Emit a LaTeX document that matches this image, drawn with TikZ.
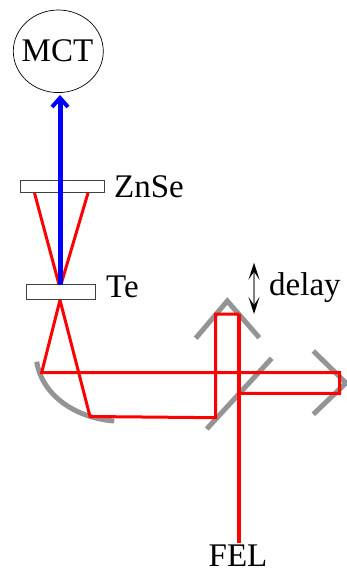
\documentclass[tikz,border=0pt]{standalone}
\usepackage{fontspec}
\setmainfont{Liberation Serif}
\usetikzlibrary{arrows.meta,shapes.geometric}
\tikzset{
  x=1pt,y=-1pt,
  lbl/.style={font=\fontsize{33}{36}\selectfont,inner sep=0pt,anchor=base west,text=black},
  beam/.style={draw=red,line width=3pt,line join=miter},
  optic/.style={draw=black!75,fill=white,line width=0.9pt},
  mirror/.style={draw=black!42,line width=5pt,line join=miter},
}
\begin{document}
\begin{tikzpicture}
\useasboundingbox (0,0) rectangle (346,569);
% coordinates of the beam
\coordinate (t1) at (60,300);
\coordinate (pl) at (41.7,372.5);
\coordinate (pr) at (90,416.5);
\coordinate (rr) at (339.5,372.5);
\coordinate (rb) at (339.5,393.3);
\coordinate (bs) at (239.3,393.3);
\coordinate (fel) at (239.3,543);
\coordinate (tr) at (239.3,314);
\coordinate (tl) at (215.7,314);
\coordinate (bl) at (215.7,417.7);
% mirrors
\draw[mirror,line cap=butt] (36.7,361.7) .. controls (42,395) and (75,418) .. (114.3,421);
\draw[mirror] (195.7,338.3) -- (227.3,301) -- (259.3,337.7);
\draw[mirror] (271.7,358.3) -- (206.7,429);
\draw[mirror] (313.3,351) -- (346,383) -- (313.3,414.3);
% red beams
\draw[beam] (34.5,193) -- (59,284.5);
\draw[beam] (88,193) -- (61,284.5);
\draw[beam] (t1) -- (pl) -- (rr) -- (rb) -- (bs);
\draw[beam] (t1) -- (pr) -- (bl) -- (tl) -- (tr);
\draw[beam,line width=4pt] (fel) -- (tr);
% windows
\node[optic,minimum width=83.5pt,minimum height=12.7pt,inner sep=0pt] (znse) at (62.3,186.6) {};
\node[optic,minimum width=69pt,minimum height=14.7pt,inner sep=0pt] (te) at (61.2,291.6) {};
% detector
\node[draw=black,line width=0.7pt,ellipse,minimum width=90pt,minimum height=82.6pt,inner sep=0pt] (mct) at (58.3,51.3) {};
\node[lbl,anchor=base] (mctl) at (57.5,62) {MCT};
% blue arrow
\draw[draw=blue,line width=5pt,line cap=butt,-{Straight Barb[length=9pt,width=16pt,line width=4pt]}] (60,285) -- (60,95);
\draw[draw=blue,line width=5pt] (60,193) -- (60,180);
% delay arrow
\coordinate (da) at (254,262.7);
\coordinate (db) at (254,314);
\draw[draw=black!50,line width=1.2pt,{Stealth[black,length=17pt,width=11pt,inset=8pt]}-{Stealth[black,length=17pt,width=11pt,inset=8pt]}] (da) -- (db);
% labels
\node[lbl] (zl) at (114,197) {ZnSe};
\node[lbl] (tel) at (106,297) {Te};
\node[lbl] (dl) at (269,295) {delay};
\node[lbl,anchor=base] (fl) at (238,566) {FEL};
\end{tikzpicture}
\end{document}
